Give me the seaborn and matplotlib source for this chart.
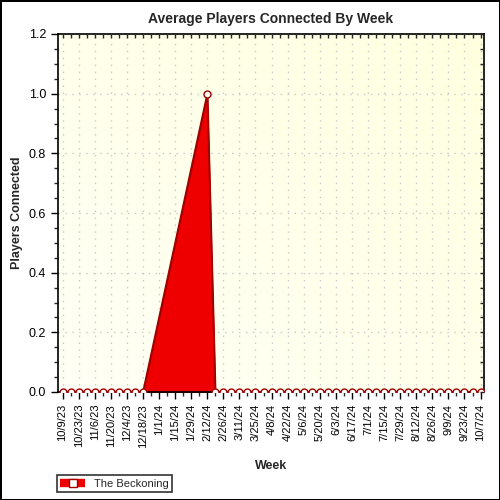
import pandas as pd
import numpy as np
import matplotlib.pyplot as plt
import matplotlib.dates as mdates
from matplotlib.colors import LinearSegmentedColormap
from matplotlib.ticker import MultipleLocator
import seaborn as sns

# weekly data (gap between 12/18/23 and 2/12/24 has no samples)
week_start = pd.date_range("2023-10-09", "2023-12-18", freq="7D").tolist()
week_end = pd.date_range("2024-02-12", "2024-10-07", freq="7D").tolist()
weeks = week_start + week_end
players = [0.0] * len(week_start) + [1.0] + [0.0] * (len(week_end) - 1)
series_name = "The Beckoning"
tick_dates = pd.date_range("2023-10-09", "2024-10-07", freq="14D")
all_weeks = pd.date_range("2023-10-09", "2024-10-07", freq="7D")

df = pd.DataFrame({"Week": weeks, "Players": players})

sns.set_style("white")
plt.rcParams["font.family"] = ["Liberation Sans", "DejaVu Sans"]

fig = plt.figure(figsize=(5, 5), dpi=100, edgecolor="black", linewidth=2)
ax = fig.add_axes([0.116, 0.216, 0.852, 0.716])

# soft yellow gradient background
grad = np.add.outer(np.linspace(1, 0, 50), np.linspace(0, 1, 50)) / 2
cmap = LinearSegmentedColormap.from_list("bg", ["#FFFFF6", "#FFFFE0"])
ax.imshow(grad, cmap=cmap, extent=[0, 1, 0, 1], transform=ax.transAxes,
          aspect="auto", zorder=0, interpolation="bicubic")

# filled area + line
ax.fill_between(df["Week"], df["Players"], 0, color="#EE0000", edgecolor="#A00000",
                linewidth=1, zorder=2)
sns.lineplot(data=df, x="Week", y="Players", ax=ax, color="#A00000", linewidth=1.2,
             marker="o", markersize=5, markerfacecolor="white", markeredgecolor="#A00000",
             markeredgewidth=1, label=series_name, zorder=3, legend=False)

# axes formatting
xlim = (pd.Timestamp("2023-10-05"), pd.Timestamp("2024-10-10"))
ax.set_xlim(xlim)
ax.set_ylim(0, 1.2)
ax.yaxis.set_major_locator(MultipleLocator(0.2))
ax.yaxis.set_minor_locator(MultipleLocator(0.05))
ax.yaxis.set_major_formatter(plt.FuncFormatter(lambda v, p: f"{v:.1f}"))
ax.set_xticks(tick_dates)
ax.set_xticklabels([f"{d.month}/{d.day}/{d.year % 100}" for d in tick_dates], rotation=90)
ax.xaxis.set_minor_locator(mdates.WeekdayLocator(byweekday=mdates.MO))

ax.tick_params(axis="both", which="major", labelsize=8, length=5, width=1,
               direction="out", colors="black")
ax.tick_params(axis="y", which="major", labelsize=9)
ax.tick_params(axis="both", which="minor", length=3, width=1, direction="out")
ax.grid(True, which="major", color="#C8C8C8", linestyle=(0, (1, 4)), linewidth=1)
for sp in ax.spines.values():
    sp.set_color("black")
    sp.set_linewidth(1.2)

# inward ticks on top and right
top = ax.twiny()
top.set_xlim(mdates.date2num(xlim[0]), mdates.date2num(xlim[1]))
top.set_xticks(mdates.date2num(all_weeks))
top.tick_params(axis="x", direction="in", length=3, width=1, labeltop=False)
right = ax.twinx()
right.set_ylim(0, 1.2)
right.yaxis.set_major_locator(MultipleLocator(0.05))
right.tick_params(axis="y", direction="in", length=3, width=1, labelright=False)
for a in (top, right):
    a.grid(False)
    for sp in a.spines.values():
        sp.set_visible(False)

ax.set_title("Average Players Connected By Week", fontsize=10, fontweight="bold", pad=8)
ax.set_xlabel("Week", fontsize=9, fontweight="bold", labelpad=9)
ax.set_ylabel("Players Connected", fontsize=9, fontweight="bold", labelpad=4)

handles = [plt.Line2D([], [], color="#EE0000", linewidth=6, marker="s", markersize=6,
                      markerfacecolor="white", markeredgecolor="#A00000",
                      solid_capstyle="butt")]
leg = fig.legend(handles, [series_name], loc="lower left", bbox_to_anchor=(0.114, 0.016),
                 fontsize=8, frameon=True, fancybox=False, borderpad=0.3,
                 handlelength=2.2, handletextpad=0.8, borderaxespad=0)
leg.get_frame().set_edgecolor("black")
leg.get_frame().set_linewidth(1.2)

fig.savefig("out.png", dpi=100)
